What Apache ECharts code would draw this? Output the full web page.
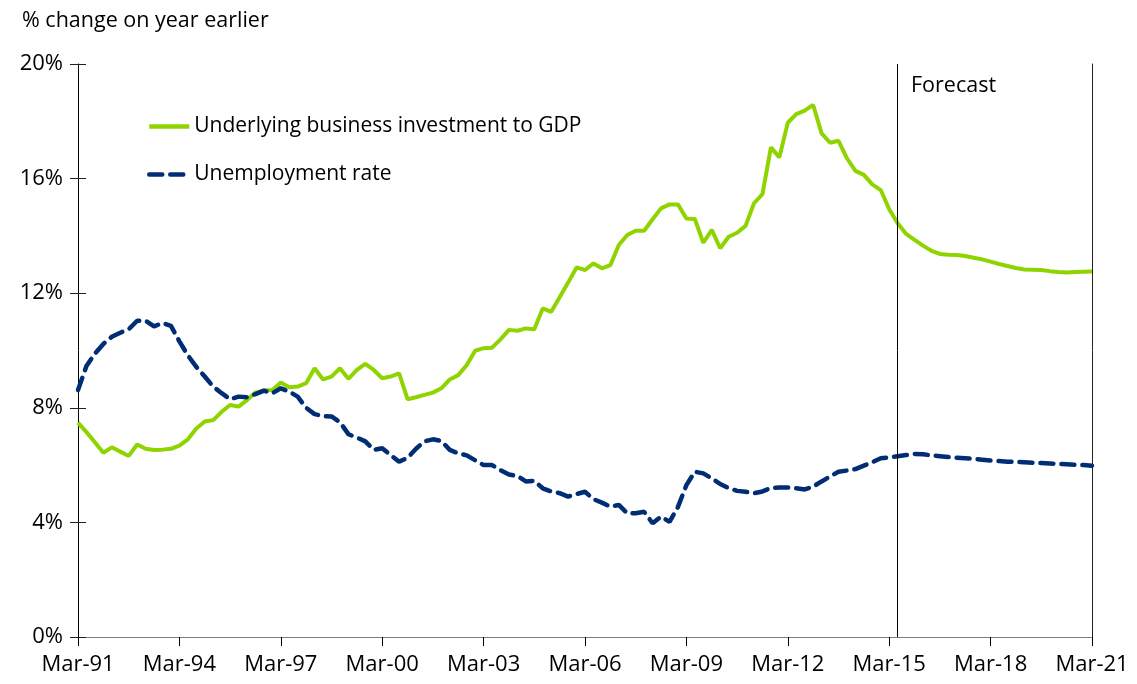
<!DOCTYPE html>
<html>
<head>
<meta charset="utf-8">
<script src="https://cdn.jsdelivr.net/npm/echarts@6/dist/echarts.min.js"></script>
<style>
  html, body { margin: 0; padding: 0; background: #fff; }
  #chart { width: 1137px; height: 684px; }
</style>
</head>
<body>
<div id="chart"></div>
<script>
// quarterly, Mar-91 .. Mar-21
var months = ["Mar", "Jun", "Sep", "Dec"];
var firstYear = 1991;
var lastYear = 2021;
var forecastStart = "Jun-15";

var investment = [
  7.48, 7.15, 6.8, 6.43, 6.62, 6.47, 6.32, 6.72, 6.57, 6.53,
  6.54, 6.57, 6.68, 6.9, 7.28, 7.52, 7.57, 7.86, 8.1, 8.04,
  8.27, 8.53, 8.6, 8.62, 8.88, 8.72, 8.74, 8.86, 9.38, 8.99,
  9.09, 9.38, 9.01, 9.32, 9.53, 9.32, 9.03, 9.09, 9.2, 8.3,
  8.37, 8.45, 8.53, 8.68, 8.99, 9.14, 9.49, 9.99, 10.08, 10.1,
  10.39, 10.72, 10.69, 10.77, 10.74, 11.47, 11.35, 11.86, 12.37, 12.9,
  12.81, 13.04, 12.87, 12.98, 13.68, 14.03, 14.18, 14.18, 14.58, 14.96,
  15.1, 15.1, 14.61, 14.59, 13.76, 14.21, 13.57, 13.97, 14.11, 14.35,
  15.14, 15.46, 17.09, 16.74, 17.95, 18.25, 18.37, 18.57, 17.58, 17.25,
  17.32, 16.71, 16.27, 16.13, 15.8, 15.6, 14.93, 14.44, 14.07, 13.86,
  13.66, 13.48, 13.37, 13.34, 13.33, 13.3, 13.24, 13.18, 13.1, 13.02,
  12.95, 12.88, 12.83, 12.82, 12.81, 12.77, 12.74, 12.72, 12.74, 12.75,
  12.76
];

var unemployment = [
  8.62, 9.46, 9.89, 10.23, 10.48, 10.62, 10.74, 11.04, 11.04, 10.84,
  10.96, 10.86, 10.32, 9.83, 9.43, 9.09, 8.74, 8.51, 8.3, 8.39,
  8.37, 8.48, 8.6, 8.51, 8.68, 8.56, 8.39, 8.0, 7.78, 7.71,
  7.7, 7.5, 7.08, 6.96, 6.83, 6.53, 6.59, 6.35, 6.12, 6.25,
  6.57, 6.83, 6.9, 6.84, 6.53, 6.41, 6.34, 6.17, 6.0, 6.0,
  5.82, 5.67, 5.62, 5.43, 5.45, 5.19, 5.08, 5.02, 4.9, 4.99,
  5.07, 4.81, 4.69, 4.55, 4.61, 4.32, 4.32, 4.37, 3.97, 4.2,
  4.02, 4.54, 5.3, 5.77, 5.71, 5.54, 5.34, 5.2, 5.1, 5.07,
  5.02, 5.08, 5.2, 5.22, 5.22, 5.19, 5.15, 5.25, 5.43, 5.6,
  5.77, 5.81, 5.86, 5.98, 6.1, 6.24, 6.27, 6.31, 6.35, 6.39,
  6.38, 6.34, 6.31, 6.28, 6.26, 6.24, 6.22, 6.19, 6.16, 6.14,
  6.12, 6.11, 6.1, 6.08, 6.07, 6.06, 6.04, 6.03, 6.01, 6.0,
  5.98
];

var quarters = [];
for (var y = firstYear; y <= lastYear; y++) {
  for (var m = 0; m < 4; m++) {
    if (y === lastYear && m > 0) break;
    quarters.push(months[m] + "-" + String(y).slice(2));
  }
}

var font = "'Open Sans', 'DejaVu Sans', sans-serif";
var chart = echarts.init(document.getElementById("chart"), null, { renderer: "canvas" });

var option = {
  animation: false,
  backgroundColor: "#fff",
  textStyle: { fontFamily: font, color: "#000" },
  title: {
    text: "% change on year earlier",
    left: 17,
    top: 5,
    textStyle: { fontFamily: font, fontSize: 21.5, fontWeight: "normal", color: "#000" }
  },
  legend: {
    orient: "vertical",
    left: 142,
    top: 111,
    itemWidth: 40,
    itemHeight: 14,
    itemGap: 27,
    itemStyle: { opacity: 0 },
    lineStyle: { width: 4.5 },
    textStyle: { fontFamily: font, fontSize: 21, color: "#000" },
    data: ["Underlying business investment to GDP", "Unemployment rate"]
  },
  graphic: [
    {
      type: "text",
      left: 911,
      top: 75,
      style: { text: "Forecast", font: "21.5px " + font, fill: "#000" }
    }
  ],
  grid: { left: 78, right: 45, top: 64, bottom: 47 },
  xAxis: [
    {
      type: "category",
      data: quarters,
      boundaryGap: false,
      axisLine: { lineStyle: { color: "#000", width: 1 } },
      axisTick: { interval: 11, length: 9, lineStyle: { color: "#000" } },
      axisLabel: { interval: 11, margin: 17, fontSize: 22, color: "#000", fontFamily: font },
      splitLine: { show: false }
    },
    {
      type: "category",
      data: quarters,
      position: "top",
      boundaryGap: false,
      axisLine: { lineStyle: { color: "#7f7f7f", width: 1 } },
      axisTick: { show: false },
      axisLabel: { show: false },
      splitLine: { show: false }
    }
  ],
  yAxis: [
    {
      type: "value",
      min: 0,
      max: 20,
      interval: 4,
      axisLine: { show: true, lineStyle: { color: "#000" } },
      axisTick: { show: true, length: 8, lineStyle: { color: "#222" } },
      axisLabel: { formatter: "{value}%", margin: 15, fontSize: 22, color: "#000", fontFamily: font },
      splitLine: { show: false }
    },
    {
      type: "value",
      position: "left",
      min: 0,
      max: 20,
      interval: 4,
      axisLine: { show: false },
      axisTick: { show: true, inside: true, length: 8, lineStyle: { color: "#222" } },
      axisLabel: { show: false },
      splitLine: { show: false }
    },
    {
      type: "value",
      position: "right",
      min: 0,
      max: 20,
      interval: 4,
      axisLine: { show: true, lineStyle: { color: "#222" } },
      axisTick: { show: false },
      axisLabel: { show: false },
      splitLine: { show: false }
    }
  ],
  series: [
    {
      name: "Underlying business investment to GDP",
      type: "line",
      data: investment,
      symbol: "none",
      lineStyle: { color: "#8fd400", width: 4 },
      itemStyle: { color: "#8fd400" },
      z: 3,
      markLine: {
        silent: true,
        symbol: ["none", "none"],
        label: { show: false },
        lineStyle: { color: "#000", width: 1, type: "solid" },
        data: [{ xAxis: forecastStart }]
      }
    },
    {
      name: "Unemployment rate",
      type: "line",
      data: unemployment,
      symbol: "none",
      lineStyle: { color: "#002d74", width: 4.5, type: [13, 8], cap: "round" },
      itemStyle: { color: "#002d74" },
      z: 4
    }
  ]
};

chart.setOption(option);
</script>
</body>
</html>
